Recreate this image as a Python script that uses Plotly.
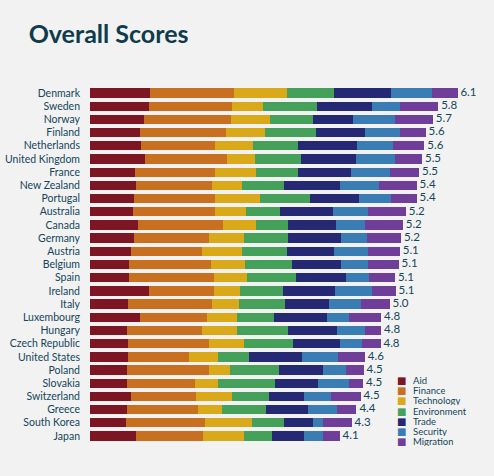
import plotly.graph_objects as go

countries = ["Denmark", "Sweden", "Norway", "Finland", "Netherlands", "United Kingdom",
             "France", "New Zealand", "Portugal", "Australia", "Canada", "Germany",
             "Austria", "Belgium", "Spain", "Ireland", "Italy", "Luxembourg", "Hungary",
             "Czech Republic", "United States", "Poland", "Slovakia", "Switzerland",
             "Greece", "South Korea", "Japan"]
totals = [6.1, 5.8, 5.7, 5.6, 5.6, 5.5, 5.5, 5.4, 5.4, 5.2, 5.2, 5.2, 5.1, 5.1, 5.1, 5.1,
          5.0, 4.8, 4.8, 4.8, 4.6, 4.5, 4.5, 4.5, 4.4, 4.3, 4.1]

aid = [1.00, 0.98, 0.90, 0.83, 0.85, 0.92, 0.75, 0.77, 0.73, 0.72, 0.80, 0.73, 0.68, 0.65,
       0.65, 0.98, 0.63, 0.83, 0.62, 0.63, 0.63, 0.62, 0.62, 0.68, 0.62, 0.60, 0.77]
finance = [1.40, 1.38, 1.45, 1.43, 1.23, 1.35, 1.33, 1.26, 1.35, 1.35, 1.41, 1.25, 1.18, 1.36,
           1.41, 1.08, 1.40, 1.11, 1.25, 1.35, 1.01, 1.36, 1.13, 1.08, 1.18, 1.31, 1.11]
technology = [0.87, 0.52, 0.65, 0.65, 0.63, 0.48, 0.68, 0.50, 0.75, 0.52, 0.55, 0.58, 0.67, 0.57,
              0.55, 0.43, 0.45, 0.50, 0.58, 0.58, 0.48, 0.35, 0.37, 0.60, 0.40, 0.78, 0.68]
environment = [0.79, 0.90, 0.70, 0.85, 0.75, 0.75, 0.70, 0.70, 0.83, 0.57, 0.53, 0.73, 0.75, 0.78,
               0.82, 0.72, 0.77, 0.62, 0.85, 0.82, 0.52, 0.82, 0.95, 0.62, 0.73, 0.53, 0.47]
trade = [0.95, 0.90, 0.67, 0.82, 0.98, 0.92, 0.88, 0.92, 0.82, 0.88, 0.80, 0.88, 0.77, 0.82,
         0.83, 0.87, 0.73, 0.88, 0.80, 0.77, 0.88, 0.73, 0.72, 0.57, 0.70, 0.48, 0.52]
security = [0.67, 0.47, 0.70, 0.58, 0.60, 0.65, 0.65, 0.65, 0.52, 0.58, 0.48, 0.43, 0.58, 0.45,
            0.38, 0.60, 0.53, 0.37, 0.47, 0.38, 0.60, 0.37, 0.52, 0.45, 0.48, 0.17, 0.33]
migration = [0.43, 0.64, 0.63, 0.42, 0.52, 0.45, 0.48, 0.63, 0.43, 0.63, 0.63, 0.57, 0.52, 0.50,
             0.43, 0.40, 0.47, 0.53, 0.27, 0.30, 0.45, 0.30, 0.23, 0.50, 0.32, 0.48, 0.27]

components = ["Aid", "Finance", "Technology", "Environment", "Trade", "Security", "Migration"]
series = [aid, finance, technology, environment, trade, security, migration]
colors = ["#7d1522", "#c8701f", "#d9a91a", "#45a05a", "#252873", "#3a7db5", "#6f3e98"]

TEXT = "#14465a"
FONT = "Lato"

fig = go.Figure()
for name, vals, col in zip(components, series, colors):
    fig.add_trace(go.Bar(y=countries, x=vals, orientation="h", name=name,
                         marker=dict(color=col, line=dict(width=0)), showlegend=False,
                         hoverinfo="x+name"))

sums = [sum(v) for v in zip(*series)]
fig.add_trace(go.Scatter(y=countries, x=sums, mode="text",
                         text=[f" {t:.1f}" for t in totals], textposition="middle right",
                         textfont=dict(family=FONT, size=11.5, color=TEXT),
                         showlegend=False, hoverinfo="skip", cliponaxis=False))

# compact legend drawn as annotations
for i, (name, col) in enumerate(zip(components, colors)):
    yy = 0.1957 - i * 0.02632
    fig.add_annotation(xref="paper", yref="paper", x=0.774, y=yy, text="■",
                       showarrow=False, xanchor="center", yanchor="middle", height=10,
                       font=dict(size=10, color=col, family="DejaVu Sans"))
    fig.add_annotation(xref="paper", yref="paper", x=0.7965, y=yy, text=name,
                       showarrow=False, xanchor="left", yanchor="middle", height=10,
                       font=dict(size=9.5, color=TEXT, family=FONT))

fig.update_layout(
    width=494, height=476,
    barmode="stack", bargap=0.29,
    paper_bgcolor="#f2f2f2", plot_bgcolor="#f2f2f2",
    margin=dict(l=90, r=1, t=73.6, b=20.6),
    title=dict(text="<b>Overall Scores</b>", x=0.058, xanchor="left", y=0.91, yanchor="bottom",
               font=dict(family=FONT, size=25, color="#0f3b4c")),
    xaxis=dict(range=[0, 6.7], visible=False, fixedrange=True),
    yaxis=dict(autorange="reversed", showgrid=False, zeroline=False, showline=False,
               ticks="", ticklabelstandoff=9,
               tickfont=dict(family=FONT, size=10.5, color=TEXT)),
    font=dict(family=FONT, color=TEXT),
)

fig.write_html("out.html")
